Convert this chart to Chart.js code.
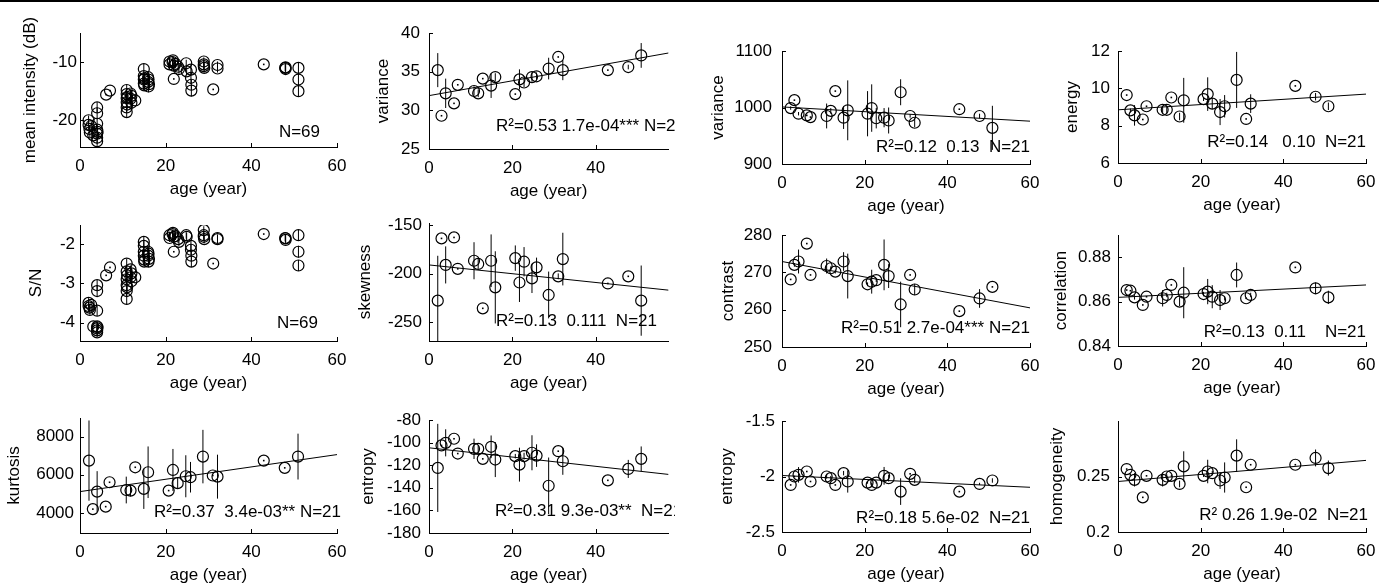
<!DOCTYPE html>
<html lang="en">
<head>
<meta charset="UTF-8" />
<title>Image features vs age</title>
<script src="https://cdn.jsdelivr.net/npm/chart.js"></script>
<style>
  body { margin: 0; background: #fff; }
  #fig { position: relative; width: 1379px; height: 587px; overflow: hidden; background: #fff; }
  #fig canvas { position: absolute; }
  #rule { position: absolute; left: 0; top: 0; width: 1379px; height: 2px; background: #000; }
</style>
</head>
<body>
<div id="fig"><div id="rule"></div></div>
<script>
// ---- per-scan data (N=69) ----
const scanAge = [
  2.0, 2.0, 2.2, 2.3, 2.6, 3.1, 4.0, 4.0, 4.0, 4.0,
  4.0, 4.0, 4.0, 4.1, 6.1, 7.0, 10.9, 10.9, 10.9, 10.9,
  10.9, 10.9, 11.0, 11.0, 11.8, 11.8, 12.0, 12.0, 12.9, 14.9,
  14.9, 14.9, 14.9, 15.0, 15.0, 15.9, 15.9, 16.0, 16.0, 16.1,
  20.9, 20.9, 21.6, 21.7, 21.9, 21.9, 22.3, 22.9, 23.1, 24.8,
  24.9, 25.9, 25.9, 26.0, 26.0, 28.9, 28.9, 29.0, 28.9, 31.1,
  32.1, 32.1, 42.9, 47.9, 48.0, 51.0, 51.0, 51.0, 48.0
];
const meanIntensity = [
  -20.0, -20.8, -21.5, -22.1, -21.0, -22.6, -17.8, -18.8, -20.6, -21.6,
  -22.3, -23.0, -23.6, -22.0, -15.6, -14.9, -14.8, -15.5, -16.2, -16.9,
  -17.8, -18.6, -16.0, -17.3, -15.4, -16.3, -15.8, -17.0, -16.6, -11.2,
  -12.4, -13.0, -13.7, -12.8, -14.0, -12.6, -13.4, -14.2, -13.0, -13.8,
  -9.9, -10.4, -10.0, -9.7, -10.6, -12.9, -10.3, -10.8, -11.2, -10.2,
  -11.6, -11.3, -12.7, -13.9, -14.9, -9.9, -10.4, -11.0, -10.7, -14.7,
  -10.5, -11.1, -10.4, -11.0, -11.2, -11.0, -13.0, -15.0, -10.9
];
const meanIntensityErr = [
  0.8, 0.9, 0.7, 0.8, 0.6, 0.0, 0.9, 1.0, 0.9, 0.8,
  0.9, 1.0, 0.8, 0.7, 0.0, 0.0, 0.9, 1.0, 0.9, 1.0,
  0.9, 1.0, 0.8, 0.9, 0.7, 0.8, 0.8, 0.9, 0.0, 0.9,
  0.8, 1.0, 0.9, 0.8, 0.9, 0.8, 0.9, 1.0, 0.8, 0.9,
  0.6, 0.7, 0.6, 0.6, 0.8, 0.0, 0.7, 0.7, 0.8, 0.6,
  0.7, 0.9, 1.0, 0.9, 1.0, 0.7, 0.8, 0.8, 0.7, 0.0,
  0.6, 0.7, 0.0, 0.6, 0.6, 1.0, 1.1, 1.0, 0.6
];
const snRatio = [
  -3.50, -3.58, -3.62, -3.68, -3.55, -4.10, -3.05, -3.20, -3.70, -4.10,
  -4.15, -4.20, -4.25, -4.12, -2.80, -2.60, -2.50, -2.70, -2.90, -3.05,
  -3.20, -3.40, -2.80, -3.10, -2.65, -2.85, -2.75, -2.95, -2.85, -1.95,
  -2.05, -2.20, -2.30, -2.40, -2.45, -2.20, -2.30, -2.45, -2.25, -2.38,
  -1.78, -1.85, -1.75, -1.72, -1.82, -2.20, -1.80, -1.88, -1.95, -1.78,
  -1.82, -2.05, -2.15, -2.30, -2.45, -1.65, -1.78, -1.88, -1.82, -2.50,
  -1.85, -1.88, -1.75, -1.85, -1.90, -1.78, -2.20, -2.55, -1.86
];
const snRatioErr = [
  0.12, 0.13, 0.10, 0.12, 0.10, 0, 0.13, 0.15, 0.13, 0.12,
  0.13, 0.14, 0.12, 0.10, 0, 0, 0.12, 0.14, 0.13, 0.14,
  0.13, 0.14, 0.12, 0.13, 0.10, 0.12, 0.12, 0.13, 0, 0.13,
  0.12, 0.14, 0.13, 0.12, 0.13, 0.12, 0.13, 0.14, 0.12, 0.13,
  0.09, 0.10, 0.09, 0.09, 0.11, 0, 0.10, 0.10, 0.11, 0.09,
  0.10, 0.13, 0.14, 0.13, 0.14, 0.10, 0.11, 0.11, 0.10, 0,
  0.09, 0.10, 0, 0.09, 0.09, 0.14, 0.15, 0.14, 0.09
];

// ---- per-subject data (N=21) ----
const subjAge = [2.1, 3.0, 4.0, 6.0, 6.9, 10.8, 11.8, 12.9, 14.9, 15.9, 20.7,
                 21.7, 22.8, 24.7, 25.8, 28.7, 31.0, 32.1, 42.9, 47.8, 50.9];

const varianceA = [35.2, 29.3, 32.2, 30.9, 33.3, 32.5, 32.2, 34.1, 33.2, 34.3, 32.1,
                   34.0, 33.6, 34.3, 34.4, 35.4, 36.9, 35.2, 35.2, 35.6, 37.1];
const varianceAErr = [2.2, 0, 1.9, 0, 0, 0.6, 0.5, 0, 1.6, 0.5, 0,
                      1.3, 0.6, 0.6, 0.5, 1.4, 0, 1.3, 0, 0.3, 1.6];

const skewness = [-227.6, -163.8, -191, -162.8, -195, -186.7, -190, -235.5, -186.7, -214, -184,
                  -209, -187.7, -204.8, -193.5, -221.8, -202.7, -185, -210, -202.7, -227.6];
const skewnessErr = [46, 0, 19, 0, 0, 19, 5, 0, 27, 37, 13,
                     20, 15, 15, 10, 24, 3, 27, 0, 0, 36];

const entropyA = [-122.4, -102.5, -100.2, -96.6, -109.7, -105.5, -105.5, -114.4, -103.7, -115, -112,
                  -119.5, -112, -109, -111.5, -138.2, -107.6, -116.5, -133.4, -123.3, -114.4];
const entropyAErr = [39, 0, 12, 0, 0, 9, 3, 0, 10, 15.5, 2,
                     15, 3, 15.5, 10, 25, 0, 12, 0, 8, 11];

const kurtosis = [6740, 4200, 5117, 4330, 5606, 5200, 5170, 6390, 5260, 6130, 5170,
                  6250, 5560, 5920, 5870, 6950, 5960, 5900, 6740, 6360, 6950];
const kurtosisErr = [2100, 0, 1070, 0, 0, 700, 300, 0, 1050, 1350, 0,
                     1100, 300, 1100, 800, 1400, 0, 1150, 0, 0, 1200];

const varianceB = [999, 1013, 989, 986, 983, 985, 994, 1029, 982, 995, 989,
                   999, 981, 982, 977, 1027, 985, 973, 997, 985, 964];
const varianceBErr = [3, 0, 3, 0, 0, 22, 5, 0, 20, 53, 40,
                      42, 18, 17, 23, 23, 3, 8, 0, 4, 39];

const contrast = [268.1, 272.0, 272.9, 277.7, 269.3, 271.7, 271.1, 270.2, 272.9, 269.0, 266.8,
                  267.5, 267.9, 272.0, 269.0, 261.4, 269.3, 265.4, 259.6, 263.0, 266.1];
const contrastErr = [0, 0.5, 3.2, 0, 0, 2, 0.5, 0.5, 2.5, 6, 0.5,
                     3.2, 0.5, 6.8, 3.2, 6.1, 0, 1.5, 0, 2.5, 0];

const entropyB = [-2.076, -2.000, -1.985, -1.955, -2.045, -2.000, -2.015, -2.076, -1.970, -2.045, -2.055,
                  -2.076, -2.055, -1.994, -2.015, -2.136, -1.976, -2.030, -2.136, -2.067, -2.036];
const entropyBErr = [0, 0, 0.07, 0, 0, 0.02, 0.02, 0, 0.02, 0.1, 0.01,
                     0.02, 0.01, 0.08, 0.03, 0.12, 0, 0.03, 0, 0.01, 0.02];

const energy = [9.64, 8.82, 8.55, 8.33, 9.04, 8.85, 8.85, 9.51, 8.49, 9.36, 9.42,
                9.69, 9.18, 8.73, 9.04, 10.45, 8.36, 9.18, 10.13, 9.55, 9.04];
const energyErr = [0, 0.1, 0.55, 0, 0, 0.2, 0.2, 0, 0.2, 1.2, 0.1,
                   0.9, 0.3, 0.7, 0.6, 1.5, 0, 0.5, 0, 0.2, 0.2];

const correlation = [0.8652, 0.8649, 0.8619, 0.8585, 0.8622, 0.8615, 0.8630, 0.8675, 0.8600, 0.8640, 0.8634,
                     0.8645, 0.8622, 0.8607, 0.8615, 0.8720, 0.8615, 0.8630, 0.8754, 0.8660, 0.8619];
const correlationErr = [0, 0, 0.001, 0, 0, 0.0037, 0.001, 0, 0.002, 0.0115, 0.001,
                        0.0057, 0.0052, 0.0045, 0.001, 0.0056, 0, 0.001, 0, 0.0026, 0.003];

const homogeneity = [0.2567, 0.2515, 0.2470, 0.2312, 0.2506, 0.2470, 0.2500, 0.2506, 0.2433, 0.2591, 0.2506,
                     0.2545, 0.2530, 0.2464, 0.2491, 0.2688, 0.2403, 0.2606, 0.2606, 0.2667, 0.2576];
const homogeneityErr = [0, 0, 0.006, 0, 0, 0.006, 0.002, 0.001, 0.003, 0.0136, 0.001,
                        0.0106, 0.002, 0.0076, 0.0136, 0.0147, 0, 0, 0, 0.0076, 0.0068];

// linear fits: [intercept, slope per year]
const fitVarianceA = [31.9, 0.096];
const fitSkewness = [-191, -0.45];
const fitEntropyA = [-104.6, -0.41];
const fitKurtosis = [5117, 32.3];
const fitVarianceB = [1001, -0.42];
const fitContrast = [272.9, -0.207];
const fitEntropyB = [-1.991, -0.00177];
const fitEnergy = [8.85, 0.014];
const fitCorrelation = [0.8619, 0.0000933];
const fitHomogeneity = [0.2455, 0.000317];

const ageTicks = [0, 20, 40, 60];

const FONT = '"Liberation Sans", Arial, Helvetica, sans-serif';
Chart.defaults.font.family = FONT;
Chart.defaults.font.size = 17;
Chart.defaults.color = '#000';

// plot boxes are page pixels of the axes area
const panels = [
  { x: scanAge, y: meanIntensity, err: meanIntensityErr, fit: null, label: 'mean intensity (dB)',
    yMin: -24.6, yMax: -5, yTicks: [-20, -10], xMax: 60,
    box: [80, 33.3, 337.3, 147.7], titleX: 30, yPad: 3,
    note: { text: 'N=69', align: 'right', dx: -17, dy: 15 } },
  { x: scanAge, y: snRatio, err: snRatioErr, fit: null, label: 'S/N',
    yMin: -4.47, yMax: -1.52, yTicks: [-4, -3, -2], xMax: 60,
    box: [80, 225, 337.3, 340.7], titleX: 36, yPad: 5,
    note: { text: 'N=69', align: 'right', dx: -19, dy: 18 } },
  { x: subjAge, y: kurtosis, err: kurtosisErr, fit: fitKurtosis, label: 'kurtosis',
    yMin: 2950, yMax: 8970, yTicks: [4000, 6000, 8000], xMax: 60,
    box: [80, 417.7, 337.3, 532.7], titleX: 14, yPad: 6,
    note: { text: 'R\u00b2=0.37  3.4e-03** N=21', align: 'right', dx: 4, dy: 21 } },

  { x: subjAge, y: varianceA, err: varianceAErr, fit: fitVarianceA, label: 'variance',
    yMin: 25, yMax: 40, yTicks: [25, 30, 35, 40], xMax: 57.4,
    box: [429.3, 33.3, 674, 149], titleX: 383.5, yPad: 9,
    note: { text: 'R\u00b2=0.53 1.7e-04*** N=21', align: 'left', dx: 67, dy: 23 } },
  { x: subjAge, y: skewness, err: skewnessErr, fit: fitSkewness, label: 'skewness',
    yMin: -269, yMax: -148, yTicks: [-250, -200, -150], xMax: 57.4,
    box: [429.3, 223.3, 674, 341.7], titleX: 366, yPad: 7,
    note: { text: 'R\u00b2=0.13  0.111  N=21', align: 'left', dx: 67, dy: 20 } },
  { x: subjAge, y: entropyA, err: entropyAErr, fit: fitEntropyA, label: 'entropy',
    yMin: -180, yMax: -80, yTicks: [-180, -160, -140, -120, -100, -80], xMax: 57.4,
    box: [429.3, 419.7, 674, 532.7], titleX: 369, yPad: 8,
    note: { text: 'R\u00b2=0.31 9.3e-03**  N=21', align: 'left', dx: 66, dy: 22 } },

  { x: subjAge, y: varianceB, err: varianceBErr, fit: fitVarianceB, label: 'variance',
    yMin: 900, yMax: 1100, yTicks: [900, 1000, 1100], xMax: 60,
    box: [781.7, 50.7, 1029.7, 163.3], titleX: 718.5, yPad: 10,
    note: { text: 'R\u00b2=0.12  0.13  N=21', align: 'right', dx: 0, dy: 17 } },
  { x: subjAge, y: contrast, err: contrastErr, fit: fitContrast, label: 'contrast',
    yMin: 250, yMax: 280, yTicks: [250, 260, 270, 280], xMax: 60,
    box: [781.7, 235, 1030, 346.7], titleX: 728.5, yPad: 10,
    note: { text: 'R\u00b2=0.51 2.7e-04*** N=21', align: 'right', dx: 0, dy: 19 } },
  { x: subjAge, y: entropyB, err: entropyBErr, fit: fitEntropyB, label: 'entropy',
    yMin: -2.5, yMax: -1.5, yTicks: [-2.5, -2, -1.5], xMax: 60,
    box: [781.7, 421, 1030, 532], titleX: 727.5, yPad: 7,
    note: { text: 'R\u00b2=0.18 5.6e-02  N=21', align: 'right', dx: 0, dy: 14 } },

  { x: subjAge, y: energy, err: energyErr, fit: fitEnergy, label: 'energy',
    yMin: 6, yMax: 12, yTicks: [6, 8, 10, 12], xMax: 60,
    box: [1118.3, 50.7, 1366.5, 162.3], titleX: 1073, yPad: 8,
    note: { text: 'R\u00b2=0.14   0.10  N=21', align: 'right', dx: 0, dy: 21 } },
  { x: subjAge, y: correlation, err: correlationErr, fit: fitCorrelation, label: 'correlation',
    yMin: 0.84, yMax: 0.89, yTicks: [0.84, 0.86, 0.88], xMax: 60,
    box: [1118.3, 235, 1366.5, 345.7], titleX: 1061.5, yPad: 7,
    note: { text: 'R\u00b2=0.13  0.11    N=21', align: 'right', dx: 0, dy: 14 } },
  { x: subjAge, y: homogeneity, err: homogeneityErr, fit: fitHomogeneity, label: 'homogeneity',
    yMin: 0.2, yMax: 0.3, yTicks: [0.2, 0.25], xMax: 60,
    box: [1118.3, 421, 1366.5, 532], titleX: 1058, yPad: 8,
    note: { text: 'R\u00b2 0.26 1.9e-02  N=21', align: 'right', dx: 2, dy: 17 } }
];

// vertical error bars (a dot when the spread is tiny)
const errorBars = {
  id: 'errorBars',
  afterDatasetsDraw(chart) {
    const idx = chart.data.datasets.findIndex(d => d.errors);
    const ds = chart.data.datasets[idx];
    const meta = chart.getDatasetMeta(idx);
    const ys = chart.scales.y, a = chart.chartArea, ctx = chart.ctx;
    ctx.save();
    ctx.beginPath();
    ctx.rect(a.left, a.top, a.right - a.left, a.bottom - a.top);
    ctx.clip();
    ctx.strokeStyle = '#000';
    ctx.fillStyle = '#000';
    ctx.lineWidth = 1;
    meta.data.forEach((pt, i) => {
      const v = ds.data[i].y, e = ds.errors[i];
      const top = ys.getPixelForValue(v + e), bot = ys.getPixelForValue(v - e);
      if (bot - top < 2) {
        ctx.fillRect(pt.x - 0.8, pt.y - 0.8, 1.6, 1.6);
      } else {
        ctx.beginPath();
        ctx.moveTo(pt.x, top);
        ctx.lineTo(pt.x, bot);
        ctx.stroke();
      }
    });
    ctx.restore();
  }
};

// short inward tick marks, matlab style
const innerTicks = {
  id: 'innerTicks',
  afterDraw(chart) {
    const { ctx, chartArea: a, scales: { x, y } } = chart;
    ctx.save();
    ctx.strokeStyle = '#000';
    ctx.lineWidth = 1;
    ctx.beginPath();
    x.ticks.forEach(t => {
      const px = Math.round(x.getPixelForValue(t.value)) + 0.5;
      ctx.moveTo(px, a.bottom); ctx.lineTo(px, a.bottom - 4);
    });
    y.ticks.forEach(t => {
      const py = Math.round(y.getPixelForValue(t.value)) + 0.5;
      ctx.moveTo(a.left, py); ctx.lineTo(a.left + 4, py);
    });
    ctx.stroke();
    ctx.restore();
  }
};

const notes = {
  id: 'notes',
  afterDraw(chart, args, opts) {
    if (!opts || !opts.text) return;
    const { ctx, chartArea: a } = chart;
    ctx.save();
    ctx.font = '17px ' + FONT;
    ctx.fillStyle = '#000';
    ctx.textBaseline = 'middle';
    ctx.textAlign = opts.align;
    const x = opts.align === 'left' ? a.left + opts.dx : a.right + opts.dx;
    ctx.fillText(opts.text, x, a.bottom - opts.dy);
    ctx.restore();
  }
};

const L = 80, T = 35, B = 56;
const fig = document.getElementById('fig');

panels.forEach(p => {
  const [left, top, right, bottom] = p.box;
  const R = p.xMax < 60 ? 1 : 12;
  const w = Math.round(L + (right - left) + R);
  const h = Math.round(T + (bottom - top) + B);
  const canvas = document.createElement('canvas');
  canvas.width = w; canvas.height = h;
  canvas.style.left = (left - L) + 'px';
  canvas.style.top = (top - T) + 'px';
  canvas.style.width = w + 'px';
  canvas.style.height = h + 'px';
  fig.appendChild(canvas);

  const datasets = [];
  if (p.fit) {
    const [b, m] = p.fit;
    datasets.push({
      type: 'line', data: [{ x: 0, y: b }, { x: 60, y: b + 60 * m }],
      borderColor: '#000', borderWidth: 1, pointRadius: 0, showLine: true, tension: 0
    });
  }
  datasets.push({
    type: 'scatter',
    data: p.x.map((a, i) => ({ x: a, y: p.y[i] })),
    errors: p.err,
    pointStyle: 'circle', pointRadius: 5.5,
    borderColor: '#000', backgroundColor: 'rgba(0,0,0,0)', borderWidth: 1.2
  });

  new Chart(canvas, {
    type: 'scatter',
    data: { datasets },
    options: {
      responsive: false, animation: false, events: [],
      layout: { padding: { top: T, right: R, left: 0, bottom: 0 } },
      plugins: { legend: { display: false }, tooltip: { enabled: false }, notes: p.note },
      scales: {
        x: {
          type: 'linear', min: 0, max: p.xMax,
          grid: { display: false, drawTicks: false },
          border: { display: true, color: '#000', width: 1 },
          ticks: { padding: 9, maxRotation: 0, autoSkip: false, callback: v => String(v) },
          afterBuildTicks: s => { s.ticks = ageTicks.filter(v => v <= p.xMax).map(v => ({ value: v })); },
          afterFit: s => { s.height = B; s.paddingLeft = 0; s.paddingRight = 0; },
          title: { display: true, text: 'age (year)', padding: { top: 0, bottom: 3 } }
        },
        y: {
          type: 'linear', min: p.yMin, max: p.yMax,
          grid: { display: false, drawTicks: false },
          border: { display: true, color: '#000', width: 1 },
          ticks: { padding: p.yPad, autoSkip: false, callback: v => String(v) },
          afterBuildTicks: s => { s.ticks = p.yTicks.map(v => ({ value: v })); },
          afterFit: s => { s.width = L; s.paddingTop = 0; s.paddingBottom = 0; },
          title: { display: true, text: p.label, padding: { top: p.titleX - (left - L) - 10.2, bottom: 0 } }
        }
      }
    },
    plugins: [errorBars, innerTicks, notes]
  });
});
</script>
</body>
</html>
